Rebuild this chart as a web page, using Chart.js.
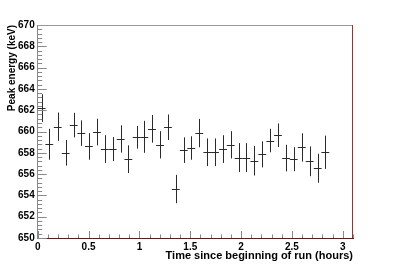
<!DOCTYPE html>
<html>
<head>
<meta charset="utf-8">
<script src="https://cdn.jsdelivr.net/npm/chart.js@4/dist/chart.umd.min.js"></script>
<style>html,body{margin:0;padding:0;background:#fff}</style>
</head>
<body>
<canvas id="c" width="394" height="267"></canvas>
<script>
// run time (hours), peak energy (keV) and its error
const timeHours=[0.039,0.114,0.197,0.275,0.354,0.429,0.504,0.583,0.659,0.737,0.816,0.891,0.973,1.048,1.124,1.203,1.281,1.357,1.436,1.510,1.589,1.668,1.743,1.822,1.898,1.975,2.051,2.130,2.208,2.287,2.362,2.442,2.517,2.596,2.674,2.753,2.828];
const peakKeV=[662.2,658.8,660.45,658.0,660.6,659.85,658.6,659.95,658.35,658.35,659.3,657.4,659.45,659.5,660.25,658.75,660.4,654.6,658.25,658.45,659.85,658.05,658.05,658.35,658.75,657.55,657.55,657.25,657.85,659.15,659.65,657.5,657.4,658.5,657.2,656.55,658.05];
const errKeV=[1.3,1.45,1.33,1.2,1.15,1.2,1.25,1.25,1.3,1.13,1.28,1.3,1.06,1.5,1.3,1.28,1.2,1.33,1.2,1.1,1.33,1.3,1.3,1.3,1.28,1.36,1.36,1.38,1.22,1.1,1.1,1.25,1.13,1.33,1.4,1.36,1.56];
const binHalfWidth=0.0385;
const xTickLabels=['0','0.5','1','1.5','2','2.5','3'];

const font={family:'"Liberation Sans", Arial, sans-serif',size:10,weight:'bold'};
const xTitleFont={family:'"Liberation Sans", Arial, sans-serif',size:11,weight:'bold'};

const errorBars={
  id:'errorBars',
  afterDatasetsDraw(chart){
    const ctx=chart.ctx, x=chart.scales.x, y=chart.scales.y;
    ctx.save();
    ctx.strokeStyle='#2a2a2a';ctx.lineWidth=1;
    ctx.beginPath();
    timeHours.forEach(function(t,i){
      const px=Math.round(x.getPixelForValue(t))+0.5;
      const py=Math.round(y.getPixelForValue(peakKeV[i]))+0.5;
      ctx.moveTo(px,y.getPixelForValue(peakKeV[i]+errKeV[i]));
      ctx.lineTo(px,y.getPixelForValue(peakKeV[i]-errKeV[i]));
      ctx.moveTo(x.getPixelForValue(t-binHalfWidth),py);
      ctx.lineTo(x.getPixelForValue(t+binHalfWidth),py);
    });
    ctx.stroke();
    ctx.restore();
  }
};

// ROOT style frame: ticks inside, grey top, red right edge
const frame={
  id:'frame',
  afterDraw(chart){
    const ctx=chart.ctx, a=chart.chartArea, x=chart.scales.x, y=chart.scales.y;
    ctx.save();
    ctx.lineWidth=1;
    ctx.strokeStyle='#888';
    ctx.beginPath();
    for(let v=650;v<=670.01;v+=0.4){
      const py=Math.round(y.getPixelForValue(v))+0.5;
      const major=Math.abs((v-650)/2-Math.round((v-650)/2))<0.01;
      ctx.moveTo(a.left,py);ctx.lineTo(a.left+(major?9:4.5),py);
    }
    for(let v=0;v<=3.1001;v+=0.1){
      const px=Math.round(x.getPixelForValue(v))+0.5;
      const major=Math.abs(v*2-Math.round(v*2))<0.01;
      ctx.moveTo(px,a.bottom);ctx.lineTo(px,a.bottom-(major?7:3.5));
    }
    ctx.stroke();
    ctx.strokeStyle='#999';
    ctx.beginPath();ctx.moveTo(a.left,Math.round(a.top)+0.5);ctx.lineTo(a.right,Math.round(a.top)+0.5);ctx.stroke();
    ctx.strokeStyle='#b02828';
    ctx.beginPath();ctx.moveTo(Math.round(a.right)-0.5,a.top);ctx.lineTo(Math.round(a.right)-0.5,a.bottom);ctx.stroke();
    ctx.restore();
  }
};

new Chart(document.getElementById('c'),{
  type:'scatter',
  data:{datasets:[{data:timeHours.map(function(t,i){return {x:t,y:peakKeV[i]}}),pointRadius:0,showLine:false}]},
  options:{
    responsive:false,animation:false,
    layout:{padding:{left:6.5,top:25,right:41,bottom:4}},
    plugins:{legend:{display:false},tooltip:{enabled:false}},
    scales:{
      x:{type:'linear',min:0,max:3.1,
        afterFit:function(s){s.height=25},
        grid:{display:false,drawTicks:false},
        border:{display:true,color:'#7a1010',width:1},
        ticks:{stepSize:0.5,includeBounds:false,padding:3,autoSkip:false,maxRotation:0,color:'#000',font:font,
          callback:function(v,i){return xTickLabels[i]}},
        title:{display:true,text:'Time since beginning of run (hours)',align:'end',color:'#000',font:xTitleFont,padding:0}},
      y:{type:'linear',min:650,max:670,
        afterFit:function(s){s.width=31.2},
        grid:{display:false,drawTicks:false},
        border:{display:true,color:'#888',width:1},
        ticks:{stepSize:2,padding:3,autoSkip:false,color:'#000',font:font},
        title:{display:true,text:'Peak energy (keV)',align:'end',color:'#000',font:font,padding:0}}
    }
  },
  plugins:[errorBars,frame]
});
</script>
</body>
</html>
